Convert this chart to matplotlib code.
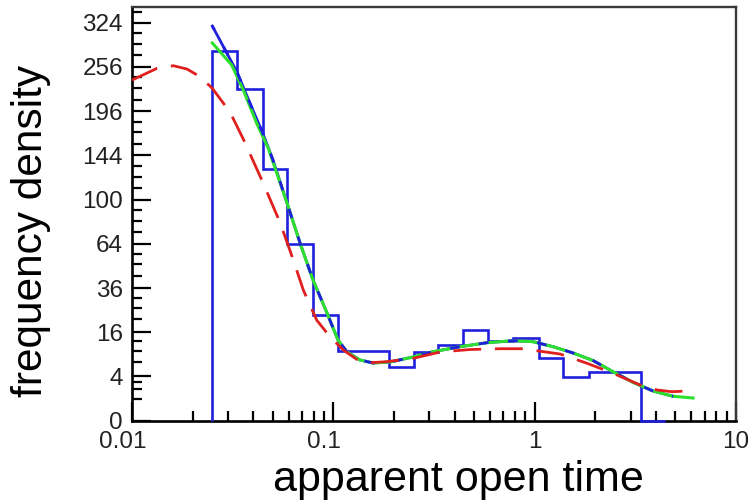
import numpy as np
import matplotlib
matplotlib.use('Agg')
import matplotlib.pyplot as plt
import matplotlib.transforms as mtransforms
from matplotlib.ticker import FixedLocator, FixedFormatter, LogLocator, NullFormatter

plt.rcParams['font.family'] = ['Liberation Sans', 'DejaVu Sans']
plt.rcParams['lines.scale_dashes'] = False

# ---- data -------------------------------------------------------------
bin_edges = [0.0249, 0.0334, 0.0446, 0.0591, 0.0795, 0.106, 0.141, 0.188,
             0.252, 0.332, 0.442, 0.589, 0.784, 1.05, 1.39, 1.86, 2.49,
             3.37, 4.44]
bin_density = [280, 225, 130, 64, 23, 10, 10, 6, 9.7, 11.7, 16.8, 13.1,
               13.9, 8, 3.85, 4.85, 4.85, 0]

blue_x = [0.02506, 0.03323, 0.03857, 0.04448, 0.05015, 0.05888, 0.06834,
          0.07926, 0.09305, 0.1055, 0.1170, 0.1357, 0.1575, 0.1913, 0.2489,
          0.3128, 0.4260, 0.5801, 0.7810, 0.9820, 1.234, 1.552, 1.950,
          2.452, 3.083, 3.875, 4.870]
blue_y = [318.7, 248.7, 206.1, 169.9, 139.0, 96.9, 64.6, 40.5, 23.7, 13.3,
          9.65, 7.54, 6.81, 7.05, 8.30, 9.74, 11.20, 12.45, 13.09, 12.77,
          11.20, 9.38, 7.4, 4.9, 3.0, 1.8, 1.22]

green_x = [0.02506, 0.02800, 0.03128, 0.03571, 0.04163, 0.04752, 0.05888,
           0.06834, 0.07926, 0.09305, 0.1055, 0.1170, 0.1357, 0.1575,
           0.1913, 0.2489, 0.3128, 0.4260, 0.5801, 0.7810, 0.9820, 1.234,
           1.552, 1.950, 2.452, 3.083, 3.875, 4.870, 6.122]
green_y = [291.8, 275.1, 258.8, 223.7, 180.9, 151.8, 96.9, 64.6, 40.5, 23.7,
           13.3, 9.65, 7.54, 6.81, 7.05, 8.30, 9.74, 11.20, 12.45, 13.09,
           12.77, 11.20, 9.38, 7.4, 4.9, 3.0, 1.8, 1.22, 1.054]

red_x = [0.01, 0.01331, 0.01604, 0.01876, 0.02177, 0.02506, 0.03067,
         0.03579, 0.04448, 0.05434, 0.06329, 0.07096, 0.08269, 0.09629,
         0.1121, 0.1306, 0.1522, 0.1842, 0.2496, 0.3388, 0.4775, 0.6732,
         0.8757, 1.088, 1.337, 1.821, 2.452, 3.339, 4.055, 4.815, 6.122]
red_y = [237.4, 254.0, 257.8, 253.0, 242.1, 226.0, 194.9, 161.8, 117.0,
         80.4, 52.8, 34.9, 20.7, 14.4, 10.22, 7.71, 6.88, 7.12, 7.96, 9.65,
         10.37, 10.60, 10.60, 9.80, 9.10, 6.74, 4.60, 2.61, 1.93, 1.72, 1.84]

y_ticks = [0, 4, 16, 36, 64, 100, 144, 196, 256, 324]
y_tick_labels = ['0', '4', '16', '36', '64', '100', '144', '196', '256', '324']
x_ticks = [0.01, 0.1, 1, 10]
x_tick_labels = ['0.01', '0.1', '1', '10']

BLUE = '#1f1fdc'
GREEN = '#2ee02e'
RED = '#e0201e'

# ---- figure -----------------------------------------------------------
fig = plt.figure(figsize=(7.52, 5.01), dpi=100)
ax = fig.add_axes([132 / 752, 80.3 / 501, 604 / 752, 414.2 / 501])

ax.set_xscale('log')
ax.set_yscale('function',
              functions=(lambda v: np.sqrt(np.clip(v, 0, None)),
                         lambda v: np.square(v)))
ax.set_xlim(0.01, 10)
ax.set_ylim(0, 351)

ax.stairs(bin_density, bin_edges, baseline=0, color=BLUE, lw=1.9,
          zorder=3, clip_on=False)
ax.plot(blue_x, blue_y, color=BLUE, lw=2.0, zorder=4)
ax.plot(green_x, green_y, color=GREEN, lw=2.2, zorder=5)
ax.plot(blue_x, blue_y, color=BLUE, lw=2.0, zorder=6,
        linestyle=(4, (7, 14)))
ax.plot(red_x, red_y, color=RED, lw=2.0, zorder=7,
        linestyle=(0, (20, 10)))

# ticks
ax.xaxis.set_major_locator(FixedLocator(x_ticks))
ax.xaxis.set_major_formatter(FixedFormatter(x_tick_labels))
ax.xaxis.set_minor_locator(LogLocator(base=10, subs=np.arange(2, 10)))
ax.xaxis.set_minor_formatter(NullFormatter())

ax.yaxis.set_major_locator(FixedLocator(y_ticks))
ax.yaxis.set_major_formatter(FixedFormatter(y_tick_labels))
minor_y = []
for a, b in zip(y_ticks[:-1], y_ticks[1:]):
    minor_y += [a + (b - a) * k / 4 for k in (1, 2, 3)]
minor_y.append(324 + (324 - 256) / 4)
ax.yaxis.set_minor_locator(FixedLocator(minor_y))
ax.yaxis.set_minor_formatter(NullFormatter())

ax.tick_params(which='both', direction='in', width=1.6, color='black',
               top=False, right=False)
ax.tick_params(which='major', length=13.5, labelsize=17.5, labelcolor='#222222')
ax.tick_params(which='minor', length=7)
ax.tick_params(axis='x', which='major', pad=7.5)
ax.tick_params(axis='y', which='major', pad=6.5)

# the decimal labels sit slightly left of their ticks in the reference
shift = mtransforms.ScaledTranslation(-0.09, 0, fig.dpi_scale_trans)
for lab, txt in zip(ax.get_xticklabels(), x_tick_labels):
    if txt in ('0.01', '0.1'):
        lab.set_transform(lab.get_transform() + shift)

for s in ('left', 'bottom'):
    ax.spines[s].set_linewidth(1.9)
    ax.spines[s].set_color('black')
for s in ('top', 'right'):
    ax.spines[s].set_linewidth(1.7)
    ax.spines[s].set_color('#3a3a3a')

fig.text(31 / 752, 1 - 231 / 501, 'frequency density', rotation=90,
         ha='center', va='center', fontsize=30.5, color='black')
fig.text(458 / 752, 1 - 491 / 501, 'apparent open time', ha='center',
         va='baseline', fontsize=31, color='black')

fig.savefig('out.png', dpi=100)
